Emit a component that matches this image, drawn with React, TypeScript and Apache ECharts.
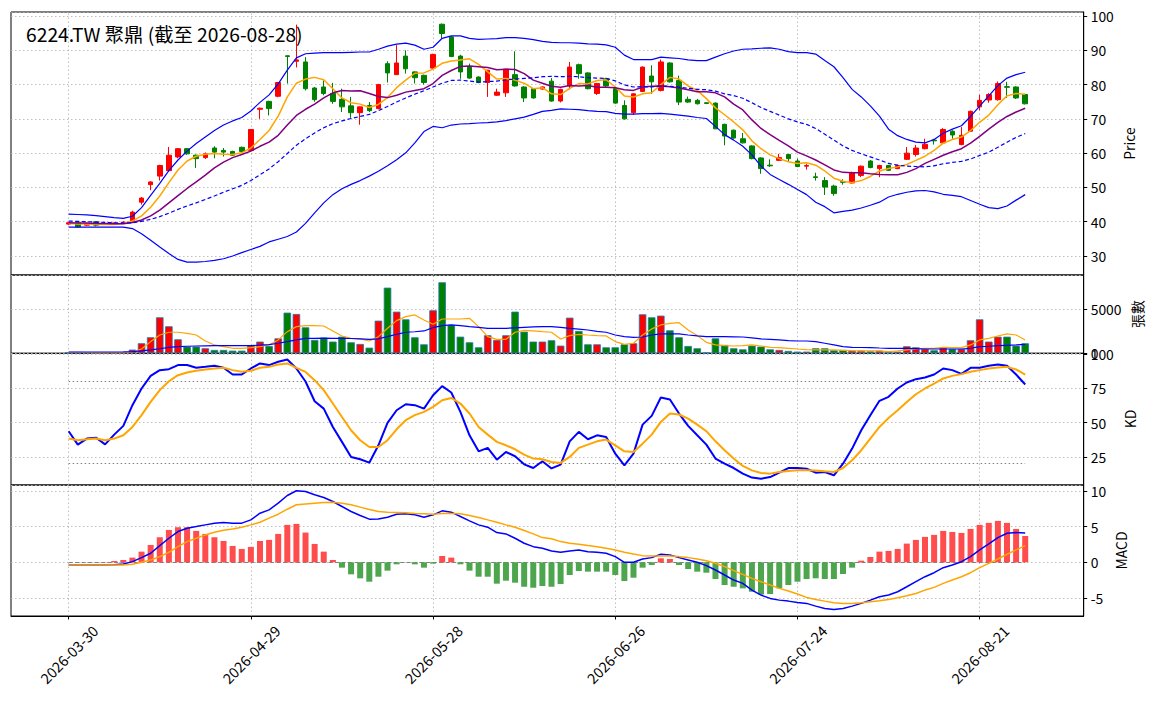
import React, { useEffect, useRef } from "react";
import * as echarts from "echarts";

const dates = ["2026-03-30","2026-03-31","2026-04-01","2026-04-02","2026-04-07","2026-04-08","2026-04-09","2026-04-10","2026-04-13","2026-04-14","2026-04-15","2026-04-16","2026-04-17","2026-04-20","2026-04-21","2026-04-22","2026-04-23","2026-04-24","2026-04-27","2026-04-28","2026-04-29","2026-04-30","2026-05-04","2026-05-05","2026-05-06","2026-05-07","2026-05-08","2026-05-11","2026-05-12","2026-05-13","2026-05-14","2026-05-15","2026-05-18","2026-05-19","2026-05-20","2026-05-21","2026-05-22","2026-05-25","2026-05-26","2026-05-27","2026-05-28","2026-05-29","2026-06-01","2026-06-02","2026-06-03","2026-06-04","2026-06-05","2026-06-08","2026-06-09","2026-06-10","2026-06-11","2026-06-12","2026-06-15","2026-06-16","2026-06-17","2026-06-18","2026-06-22","2026-06-23","2026-06-24","2026-06-25","2026-06-26","2026-06-29","2026-06-30","2026-07-01","2026-07-02","2026-07-03","2026-07-06","2026-07-07","2026-07-08","2026-07-09","2026-07-10","2026-07-13","2026-07-14","2026-07-15","2026-07-16","2026-07-17","2026-07-20","2026-07-21","2026-07-22","2026-07-23","2026-07-24","2026-07-27","2026-07-28","2026-07-29","2026-07-30","2026-07-31","2026-08-03","2026-08-04","2026-08-05","2026-08-06","2026-08-07","2026-08-10","2026-08-11","2026-08-12","2026-08-13","2026-08-14","2026-08-17","2026-08-18","2026-08-19","2026-08-20","2026-08-21","2026-08-24","2026-08-25","2026-08-26","2026-08-27","2026-08-28"];

const openP = [39.3,39.7,39.0,40.0,39.3,39.5,39.6,40.2,45.7,50.8,53.3,54.9,58.9,61.3,59.4,58.7,61.5,60.8,60.5,61.7,60.8,72.8,75.1,76.6,88.4,86.8,86.6,79.0,79.3,77.4,75.7,73.8,71.8,73.9,73.0,86.1,82.9,88.3,83.7,82.7,84.8,97.6,93.9,88.3,85.1,82.2,80.6,76.9,77.6,82.9,79.3,78.8,78.7,81.0,75.2,79.6,85.8,83.4,77.4,81.7,78.8,73.9,71.8,78.0,82.5,78.3,86.3,81.2,75.7,75.4,74.7,74.6,68.4,66.7,64.2,62.1,58.6,56.5,57.9,59.6,57.7,56.2,53.1,52.0,50.4,51.7,51.3,53.5,57.7,55.5,56.4,55.5,58.2,59.6,61.3,63.8,63.0,66.4,62.5,66.4,73.5,75.5,75.6,79.4,79.3,77.1];
const closeP = [39.7,38.5,39.5,39.0,39.5,39.6,39.9,42.8,46.9,51.6,56.4,59.4,61.3,59.8,58.4,59.8,60.3,60.3,59.4,60.5,66.9,73.1,73.0,80.6,88.2,87.2,78.8,75.6,77.4,75.1,73.5,71.8,73.5,72.4,80.0,83.4,86.3,84.6,82.0,80.6,88.8,94.9,88.2,83.7,81.9,80.6,84.2,77.8,84.5,79.6,76.1,76.1,79.3,75.2,78.6,85.1,83.2,78.8,80.3,79.6,74.6,70.0,77.3,85.1,80.8,86.6,80.8,74.9,74.9,74.4,74.5,67.1,65.0,64.4,63.0,58.4,55.5,56.3,58.7,58.4,56.1,56.4,52.9,50.1,48.2,51.5,54.2,56.2,55.8,56.4,55.0,56.4,60.0,61.5,62.6,63.6,66.9,65.3,65.2,72.2,75.4,77.1,80.3,79.2,76.1,74.4];
const lowP = [39.1,38.3,38.8,38.6,39.1,39.3,39.4,40.0,45.0,49.2,52.0,54.5,58.5,59.5,55.7,58.3,58.5,59.0,59.2,60.3,60.5,70.0,71.0,76.3,80.3,85.0,78.3,75.0,76.9,74.4,72.0,70.3,68.3,72.0,72.8,80.6,82.8,83.2,80.3,80.0,84.6,93.6,88.0,81.7,81.7,80.4,76.4,76.7,76.4,79.4,74.9,75.9,78.5,75.0,74.8,78.6,81.7,78.6,77.0,79.3,74.4,69.8,71.2,77.8,77.3,78.0,80.6,74.0,74.7,74.2,74.3,67.0,62.3,64.2,62.8,58.2,54.0,56.0,57.7,57.5,55.9,55.2,52.0,47.8,47.6,50.8,51.1,53.0,55.6,53.0,54.8,55.3,58.0,59.0,61.1,62.5,62.8,64.2,62.3,66.2,72.5,74.7,75.3,76.1,75.8,74.2];
const highP = [39.9,39.9,39.7,40.2,39.7,39.8,40.1,43.2,47.2,51.8,56.6,61.8,61.5,61.5,59.6,60.2,62.0,61.5,60.7,61.9,67.0,73.3,75.3,80.8,88.5,97.5,88.0,79.3,81.2,80.5,78.8,76.4,73.6,74.9,80.2,86.8,91.5,90.0,83.9,82.9,89.0,97.8,94.1,88.7,86.1,82.4,84.3,78.8,84.6,89.7,79.5,79.0,79.5,81.9,78.8,86.6,86.1,83.6,80.5,82.0,79.0,75.4,77.5,85.3,85.6,87.3,86.5,82.6,76.5,75.8,74.8,74.8,68.6,66.9,65.9,62.3,58.8,58.2,59.8,59.8,58.4,56.8,54.3,53.0,50.8,52.4,54.6,56.4,58.0,56.6,56.6,56.6,61.8,62.4,64.2,64.2,67.3,66.7,67.6,72.4,77.0,77.5,80.9,80.8,79.5,77.3];

const ma5 = [39.5,39.3,39.3,39.2,39.2,39.2,39.5,40.2,41.7,44.2,47.5,51.4,55.1,57.7,59.1,59.7,59.9,59.7,59.6,60.1,61.5,64.0,66.6,70.8,76.4,80.4,81.6,82.1,81.4,78.8,76.1,74.7,74.3,73.3,74.2,76.2,79.1,81.3,83.3,83.4,84.5,86.2,86.9,87.2,87.5,85.9,83.7,81.6,81.8,81.3,80.4,78.8,79.1,77.3,77.1,78.9,80.3,80.2,81.2,81.4,79.3,76.7,76.4,77.3,77.6,80.0,82.1,81.6,79.6,78.3,75.9,73.2,71.2,69.1,66.8,63.6,61.3,59.5,58.4,57.5,57.0,57.2,56.5,54.8,52.7,51.8,51.4,52.0,53.2,54.8,55.5,56.0,56.7,57.9,59.1,60.8,62.9,64.0,64.7,66.6,69.0,71.1,74.1,76.7,77.4,77.2];
const ma10 = [39.7,39.6,39.6,39.5,39.5,39.4,39.4,39.8,40.5,41.7,43.4,45.5,47.6,49.7,51.6,53.6,55.7,57.4,58.7,59.6,60.6,62.0,63.2,65.2,68.2,71.0,72.8,74.3,76.1,77.6,78.3,78.1,78.2,77.4,76.5,76.2,76.9,77.8,78.3,78.8,80.3,82.7,84.1,85.3,85.4,85.2,85.0,84.3,84.5,84.4,83.2,81.3,80.4,79.5,79.2,79.7,79.6,79.7,79.2,79.2,79.1,78.5,78.3,79.3,79.5,79.6,79.4,79.0,78.5,77.9,77.9,77.6,76.4,74.3,72.6,69.7,67.2,65.4,63.7,62.1,60.3,59.2,58.0,56.6,55.1,54.4,54.3,54.3,54.0,53.8,53.7,53.7,54.4,55.5,57.0,58.2,59.4,60.4,61.3,62.9,64.9,67.0,69.0,70.7,72.0,73.1];
const ma20 = [40.2,40.1,40.0,39.9,39.8,39.7,39.6,39.7,40.1,40.7,41.5,42.5,43.6,44.6,45.5,46.5,47.5,48.6,49.6,50.6,52.0,53.7,55.4,57.5,59.9,62.3,64.2,65.9,67.4,68.6,69.4,70.1,70.7,71.3,72.4,73.6,74.9,76.1,77.2,78.2,79.3,80.4,81.2,81.3,81.0,80.7,80.9,81.0,81.4,81.6,81.8,82.0,82.3,82.4,82.3,82.4,82.3,82.0,81.9,81.8,81.1,79.9,79.3,79.4,79.3,79.6,79.5,79.3,78.9,78.6,78.5,78.1,77.3,76.8,76.0,74.7,73.3,72.2,71.1,70.0,69.1,68.4,67.2,65.5,63.8,62.1,60.8,59.8,58.9,58.0,57.0,56.5,56.2,56.1,56.0,56.3,56.9,57.3,57.6,58.3,59.3,60.3,61.7,63.2,64.6,65.7];
const bbUpper = [42.2,42.1,42.0,41.8,41.5,41.2,41.0,41.6,44.1,47.7,51.2,54.9,58.0,60.6,62.8,64.7,66.6,68.2,69.4,70.4,72.3,74.8,77.0,80.2,84.2,87.8,89.0,89.2,89.3,89.3,89.3,89.4,89.5,89.5,90.3,91.2,91.8,92.1,91.5,90.3,90.9,93.5,94.2,94.2,93.5,93.2,93.3,93.4,93.7,93.7,93.5,93.1,92.6,92.3,92.2,92.2,92.1,91.9,91.8,91.6,90.9,88.6,87.3,87.3,87.3,88.0,87.8,87.6,87.2,87.0,87.0,88.0,89.0,89.8,90.3,90.4,90.6,90.7,90.3,89.6,89.3,89.3,88.9,87.0,85.2,82.0,78.6,76.4,73.8,70.8,67.0,65.1,64.0,63.2,63.0,64.0,65.8,67.0,68.0,70.7,73.7,76.7,79.7,81.9,82.9,83.6];
const bbLower = [38.4,38.4,38.4,38.4,38.4,38.4,38.4,38.0,36.5,34.6,32.6,30.7,29.0,28.2,28.2,28.4,28.7,29.2,30.0,31.0,31.9,32.8,34.1,34.9,35.7,37.0,39.5,42.6,45.5,47.9,49.6,50.9,52.0,53.3,54.7,56.3,58.1,60.1,63.0,66.3,67.8,67.4,68.2,68.5,68.6,68.8,68.9,69.1,69.5,70.0,70.5,71.3,72.2,72.5,72.9,72.8,72.7,72.4,72.2,72.1,71.6,71.4,71.4,71.5,71.5,71.6,71.4,71.1,70.8,70.4,70.1,67.8,65.4,63.8,62.0,59.5,56.2,53.8,52.3,50.9,49.4,47.9,45.7,44.4,42.6,43.0,43.4,44.0,44.8,45.7,47.2,48.0,48.6,49.0,49.1,48.7,48.0,47.7,47.3,46.2,45.1,44.1,43.8,44.6,46.3,47.9];

const volume = [100,80,90,70,60,80,100,420,1140,1820,4090,3070,1590,760,760,570,380,380,300,300,870,1330,830,1700,4620,4470,2950,1520,1780,1330,1890,1250,1060,640,3710,7460,4730,3860,1820,1020,4890,8070,3220,1890,1250,680,2050,1520,2050,4730,2460,1330,1330,1480,870,4050,2540,1020,1020,680,680,1020,1140,4430,4090,4280,2610,1820,830,570,80,1700,950,570,450,870,760,450,380,270,190,190,570,570,340,380,300,300,230,300,110,190,800,680,490,340,680,490,490,1480,3860,1330,1890,1890,870,1140];
const volMa5 = [100,95,90,85,80,76,80,150,490,1330,2080,2390,2390,2270,2080,1400,950,760,570,570,640,760,950,1520,2460,3030,3140,3140,3100,2540,1970,1700,1630,1400,1890,2840,3710,4170,4360,3790,3300,3900,3900,3900,3980,3030,1890,1590,1590,2390,2610,2540,2460,2390,1630,2010,2160,2080,2010,1970,1330,1020,1140,2080,2770,3220,3410,3480,2650,2010,1250,950,870,830,870,950,830,680,640,570,490,420,380,380,380,340,300,270,270,270,190,270,380,490,570,570,680,640,640,950,1520,1700,1970,2200,2080,1520];
const volMa20 = [150,150,150,150,150,150,160,200,280,380,520,680,750,800,830,850,870,870,870,870,870,920,980,1140,1330,1520,1700,1700,1720,1700,1700,1680,1650,1590,1650,1900,2160,2390,2450,2540,2920,3140,3220,3150,3030,2950,2840,2840,2840,2900,2950,3000,3030,3030,2950,2840,2750,2650,2500,2390,2080,1890,1820,1850,2080,2200,2200,2200,2080,1970,1900,1890,1890,1870,1850,1750,1630,1580,1520,1440,1400,1400,1330,1140,950,760,680,660,640,600,570,560,550,520,490,490,490,490,490,570,760,800,870,910,950,1020];

const kLine = [43.7,33.9,38.3,39.0,34.1,41.2,47.6,62.7,74.9,84.1,88.3,89.0,92.0,92.0,90.0,90.7,91.5,90.0,85.1,85.1,89.5,93.2,92.0,94.4,96.1,89.5,80.0,65.6,60.2,46.8,35.9,24.9,23.2,20.7,33.4,49.8,59.0,63.4,62.7,60.2,70.0,76.6,72.0,57.8,40.7,29.0,31.5,22.9,28.5,25.4,19.5,16.8,21.7,16.5,19.3,36.3,43.2,37.8,40.7,39.5,27.3,18.8,27.3,48.5,54.9,68.3,66.8,56.6,47.6,40.7,33.9,23.7,20.0,16.8,12.7,9.8,9.0,10.2,13.4,16.8,16.8,16.3,13.4,13.9,11.5,20.0,31.0,44.4,55.4,65.9,68.8,74.9,79.3,81.7,82.9,85.1,89.5,88.3,85.6,90.0,90.0,91.5,92.4,91.5,85.1,77.8];
const dLine = [38.3,37.1,37.8,38.3,37.1,38.3,40.7,46.8,55.4,65.1,73.7,80.2,84.6,86.6,87.8,88.8,89.5,90.0,88.3,87.1,87.8,90.0,90.7,92.4,93.2,90.0,87.0,81.0,73.7,63.9,54.1,44.4,37.1,32.2,32.2,37.1,45.1,51.7,55.4,57.8,61.5,66.3,68.0,63.9,56.6,46.8,41.2,35.9,33.4,30.5,26.6,23.7,23.2,21.2,20.5,24.9,31.5,33.9,36.3,37.6,33.4,29.0,28.5,34.6,41.2,50.5,56.6,55.9,52.9,48.5,43.7,36.3,29.8,23.7,18.3,15.1,13.2,12.7,13.9,14.6,15.1,15.1,15.0,14.4,13.9,16.8,22.4,29.8,38.3,46.8,53.4,59.0,65.1,70.7,74.9,78.5,82.2,84.1,85.4,87.1,88.3,89.5,90.2,90.7,88.8,85.1];

const dif = [-0.38,-0.38,-0.38,-0.38,-0.38,-0.35,-0.23,0.1,0.66,1.27,2.35,3.38,4.32,4.79,5.02,5.26,5.49,5.59,5.5,5.5,5.96,6.9,7.37,8.31,9.39,10.05,9.95,9.48,9.1,8.54,7.84,7.14,6.57,6.06,6.1,6.34,6.76,6.81,6.67,6.34,6.67,7.23,7.04,6.43,5.82,5.26,4.93,4.18,3.99,3.38,2.68,2.2,1.97,1.6,1.41,1.6,1.74,1.5,1.41,1.27,0.8,0.0,0.0,0.47,0.66,1.13,1.03,0.66,0.33,0.0,-0.47,-1.08,-1.78,-2.49,-2.96,-3.9,-4.6,-5.07,-5.31,-5.45,-5.63,-5.77,-6.15,-6.48,-6.62,-6.48,-6.15,-5.77,-5.31,-4.84,-4.6,-4.13,-3.43,-2.72,-2.02,-1.46,-0.75,-0.38,0.09,0.8,1.74,2.58,3.47,4.08,4.18,4.13];
const dea = [-0.38,-0.38,-0.38,-0.38,-0.38,-0.38,-0.36,-0.28,0.0,0.33,0.8,1.41,2.2,2.91,3.38,3.85,4.23,4.51,4.69,4.93,5.26,5.63,6.2,6.76,7.46,8.08,8.2,8.3,8.4,8.45,8.31,8.08,7.75,7.42,7.14,7.04,7.0,6.95,6.85,6.81,6.76,6.85,6.85,6.81,6.57,6.29,5.96,5.63,5.26,4.93,4.46,3.99,3.47,3.3,2.91,2.68,2.54,2.35,2.2,1.97,1.74,1.41,1.17,0.94,0.89,0.89,0.89,0.8,0.66,0.47,0.23,-0.14,-0.61,-1.17,-1.69,-2.25,-2.72,-3.19,-3.66,-4.04,-4.45,-4.93,-5.21,-5.45,-5.68,-5.77,-5.77,-5.68,-5.54,-5.4,-5.21,-4.98,-4.69,-4.37,-3.9,-3.52,-2.96,-2.49,-2.02,-1.46,-0.75,-0.14,0.47,1.13,1.74,2.35];
const osc = [0.0,0.0,0.02,0.03,0.05,0.19,0.33,0.66,1.5,2.44,3.52,4.55,4.93,4.93,4.41,3.99,3.52,3.0,2.3,1.88,2.16,3.0,3.15,3.99,5.26,5.4,4.18,2.58,1.5,0.33,-0.75,-1.69,-2.25,-2.72,-2.02,-1.17,-0.28,-0.05,-0.28,-0.75,-0.19,0.89,0.66,-0.28,-1.17,-2.02,-2.02,-3.0,-2.58,-2.86,-3.43,-3.57,-3.33,-3.43,-3.05,-1.78,-1.22,-1.31,-1.31,-1.31,-1.78,-2.63,-2.16,-0.75,-0.38,0.56,0.47,-0.38,-0.94,-1.31,-1.46,-2.35,-3.19,-3.43,-3.66,-4.13,-4.51,-4.46,-3.66,-3.19,-2.72,-2.35,-2.25,-2.35,-2.35,-1.64,-0.75,0.23,0.75,1.5,1.6,1.88,2.63,3.15,3.57,3.85,4.41,4.27,4.13,4.69,5.26,5.54,5.82,5.54,4.69,3.71];

const tickIndex = [0, 20, 40, 60, 80, 100];
const titleText = "6224.TW 聚鼎 (截至 2026-08-28)";

const FONT = '"Noto Sans CJK TC", "Noto Sans", sans-serif';
const GRID_COLOR = "#b0b0b0";
const DOT: number[] = [1.5, 2.5];

const pairs = (arr: number[]) => arr.map((v, i) => [i, v]);

export default function App() {
  const ref = useRef<HTMLDivElement>(null);

  useEffect(() => {
    document.body.style.margin = "0";
    const el = ref.current;
    if (!el) return;
    const chart = echarts.init(el, null, { renderer: "svg" });

    const gridBase = {
      left: 11,
      width: 1072.7,
      show: true,
      borderColor: "#000",
      borderWidth: 1,
      backgroundColor: "transparent",
      containLabel: false,
    };
    const grids = [
      { ...gridBase, top: 12, height: 263 },
      { ...gridBase, top: 275, height: 78.3 },
      { ...gridBase, top: 353.3, height: 131.7 },
      { ...gridBase, top: 485, height: 131 },
    ];

    const xAxes = grids.map((_, gi) => ({
      type: "value",
      gridIndex: gi,
      min: -6.33,
      max: 111.42,
      axisLine: { show: gi === 3, onZero: false, lineStyle: { color: "#000" } },
      axisTick:
        gi === 3
          ? { show: true, customValues: tickIndex, length: 3.5, lineStyle: { color: "#000" } }
          : { show: false },
      axisLabel:
        gi === 3
          ? {
              show: true,
              customValues: tickIndex,
              formatter: (v: number) => dates[Math.round(v)] ?? "",
              rotate: 45,
              align: "center",
              verticalAlign: "middle",
              margin: 38,
              color: "#000",
              fontSize: 14.5,
              fontFamily: FONT,
            }
          : { show: false },
      splitLine: { show: false },
    }));

    const yAxis = (gi: number, min: number, max: number, interval: number, showMin: boolean) => ({
      type: "value",
      gridIndex: gi,
      position: "right",
      min,
      max,
      minInterval: interval,
      maxInterval: interval,
      axisLine: { show: true, onZero: false, lineStyle: { color: "#000" } },
      axisTick: { show: true, length: 3.5, lineStyle: { color: "#000" } },
      axisLabel: {
        color: "#000",
        fontSize: 13.9,
        fontFamily: FONT,
        margin: 7,
        showMinLabel: showMin,
        showMaxLabel: false,
        formatter: (v: number) => String(v),
      },
      splitLine: { show: true, lineStyle: { color: GRID_COLOR, type: DOT, width: 0.8 } },
    });

    const yAxes = [
      yAxis(0, 24.46, 101.17, 10, false),
      yAxis(1, 0, 8898, 5000, true),
      yAxis(2, 4.4, 100.6, 25, false),
      yAxis(3, -7.54, 10.86, 5, false),
    ];

    const vGrid = {
      silent: true,
      symbol: ["none", "none"],
      label: { show: false },
      z: 1,
      lineStyle: { color: GRID_COLOR, type: DOT, width: 0.8 },
      emphasis: { disabled: true },
      data: tickIndex.map((v) => ({ xAxis: v })),
    };

    const line = (gi: number, data: number[], color: string, width: number, extra: any = {}) => ({
      type: "line",
      xAxisIndex: gi,
      yAxisIndex: gi,
      data: pairs(data),
      showSymbol: false,
      symbol: "none",
      silent: true,
      z: 3,
      lineStyle: { color, width, ...(extra.lineStyle || {}) },
      ...(extra.markLine ? { markLine: extra.markLine } : {}),
    });

    const hLine = (y: number) => [{ coord: [0, y] }, { coord: [dates.length - 1, y] }];

    const refLines = (color: string, type: any, ys: number[]) => ({
      silent: true,
      symbol: ["none", "none"],
      label: { show: false },
      z: 1,
      emphasis: { disabled: true },
      lineStyle: { color, type, width: 1 },
      data: ys.map((y) => hLine(y)),
    });

    const series: any[] = [
      {
        type: "candlestick",
        xAxisIndex: 0,
        yAxisIndex: 0,
        z: 2,
        barWidth: 5,
        data: dates.map((_, i) => [i, openP[i], closeP[i], lowP[i], highP[i]]),
        itemStyle: {
          color: "#ff0000",
          color0: "#008000",
          borderColor: "#ff0000",
          borderColor0: "#008000",
          borderWidth: 1,
        },
      },
      line(0, ma5, "#ffa500", 1.5, { markLine: vGrid }),
      line(0, ma10, "#800080", 1.5),
      line(0, ma20, "#0000ff", 1.2, { lineStyle: { type: [4, 2.5] } }),
      line(0, bbUpper, "#0000ff", 1.2),
      line(0, bbLower, "#0000ff", 1.2),
      {
        type: "bar",
        xAxisIndex: 1,
        yAxisIndex: 1,
        z: 2,
        barWidth: 7.5,
        silent: true,
        data: volume.map((v, i) => ({
          value: [i, v],
          itemStyle: { color: closeP[i] >= openP[i] ? "#ff0000" : "#008000" },
        })),
        itemStyle: { borderColor: "#1f77b4", borderWidth: 0.8 },
      },
      line(1, volMa5, "#ffa500", 1.2, { markLine: vGrid }),
      line(1, volMa20, "#0000ff", 1.2),
      line(2, kLine, "#0000ff", 2, { markLine: vGrid }),
      line(2, dLine, "#ffa500", 2, { markLine: refLines("#808080", DOT, [80, 20]) }),
      {
        type: "bar",
        xAxisIndex: 3,
        yAxisIndex: 3,
        z: 2,
        barWidth: 6,
        silent: true,
        data: osc.map((v, i) => ({
          value: [i, v],
          itemStyle: { color: v >= 0 ? "#ff4d4d" : "#4da64d" },
        })),
      },
      line(3, dif, "#0000ff", 1.5, { markLine: vGrid }),
      line(3, dea, "#ffa500", 1.5, { markLine: refLines("#808080", [4, 2.5], [0]) }),
    ];

    const nameText = (text: string, x: number, y: number) => ({
      type: "text",
      x,
      y,
      rotation: Math.PI / 2,
      silent: true,
      style: {
        text,
        fill: "#000",
        fontSize: 13.9,
        fontFamily: FONT,
        align: "center",
        verticalAlign: "middle",
        textAlign: "center",
        textVerticalAlign: "middle",
      },
    });

    chart.setOption({
      animation: false,
      backgroundColor: "#ffffff",
      grid: grids,
      xAxis: xAxes,
      yAxis: yAxes,
      series,
      graphic: [
        {
          type: "text",
          x: 26,
          y: 34,
          silent: true,
          z: 10,
          style: {
            text: titleText,
            fill: "#000",
            fontSize: 19.3,
            fontFamily: FONT,
            align: "left",
            verticalAlign: "middle",
            textAlign: "left",
            textVerticalAlign: "middle",
          },
        },
        nameText("Price", 1129, 143.5),
        nameText("張數", 1137, 314),
        nameText("KD", 1130, 419),
        nameText("MACD", 1121, 550.5),
      ],
    });

    return () => {
      chart.dispose();
    };
  }, []);

  return (
    <div
      ref={ref}
      style={{ position: "absolute", left: 0, top: 0, width: 1155, height: 701 }}
    />
  );
}
